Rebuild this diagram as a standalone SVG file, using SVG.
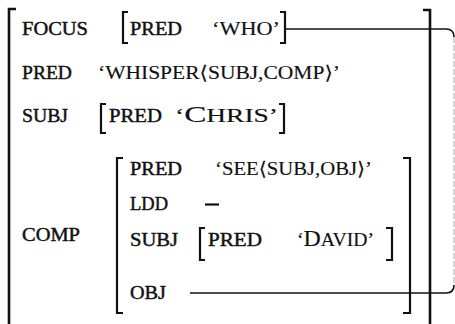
<svg xmlns="http://www.w3.org/2000/svg" width="455" height="324" viewBox="0 0 455 324">
<style>
text { font-family: "Liberation Serif", "DejaVu Serif", serif; fill: #111; }
.a { font-size: 19px; stroke: #111; stroke-width: 0.45; }
.v { font-size: 19px; stroke: #111; stroke-width: 0.15; }
.big { font-size: 23px; }
.br { fill: none; stroke: #111; stroke-width: 2.2; }
.obr { fill: none; stroke: #111; stroke-width: 2.6; }
.con { fill: none; stroke: #111; stroke-width: 1.6; }
.conv { fill: none; stroke: #aaa; stroke-width: 1; stroke-dasharray: 6 2; }
</style>
<rect width="455" height="324" fill="#fff"/>
<g id="fstructure">
  <path class="obr" d="M16,9 H9 V324"/>
  <path class="obr" d="M423,10 H430 V324"/>
  <text class="a" x="22" y="35" textLength="66" lengthAdjust="spacingAndGlyphs">FOCUS</text>
  <text class="a" x="22" y="79" textLength="50" lengthAdjust="spacingAndGlyphs">PRED</text>
  <text class="v" x="98" y="79" textLength="242" lengthAdjust="spacingAndGlyphs">‘WHISPER⟨SUBJ,COMP⟩’</text>
  <text class="a" x="22" y="122" textLength="46" lengthAdjust="spacingAndGlyphs">SUBJ</text>
  <text class="a" x="22" y="241" textLength="58" lengthAdjust="spacingAndGlyphs">COMP</text>
</g>
<g id="focus">
  <path class="br" d="M128,12 H123 V43 H128"/>
  <path class="br" d="M280,12 H285 V43 H280"/>
  <text class="a" x="130" y="35" textLength="52" lengthAdjust="spacingAndGlyphs">PRED</text>
  <text class="v" x="212" y="35" textLength="68" lengthAdjust="spacingAndGlyphs">‘WHO’</text>
</g>
<g id="subj">
  <path class="br" d="M106,104 H101 V133 H106"/>
  <path class="br" d="M279,104 H284 V133 H279"/>
  <text class="a" x="109" y="122" textLength="53" lengthAdjust="spacingAndGlyphs">PRED</text>
  <text class="v" x="175" y="122" textLength="103" lengthAdjust="spacingAndGlyphs">‘<tspan class="big">C</tspan>HRIS’</text>
</g>
<g id="comp">
  <path class="br" d="M123,158 H117 V313 H123"/>
  <path class="br" d="M403,158 H410 V313 H403"/>
  <text class="a" x="130" y="175" textLength="52" lengthAdjust="spacingAndGlyphs">PRED</text>
  <text class="v" x="215" y="175" textLength="157" lengthAdjust="spacingAndGlyphs">‘SEE⟨SUBJ,OBJ⟩’</text>
  <text class="a" x="130" y="210" textLength="38" lengthAdjust="spacingAndGlyphs">LDD</text>
  <path class="br" d="M205,204.5 H219"/>
  <text class="a" x="130" y="246" textLength="48" lengthAdjust="spacingAndGlyphs">SUBJ</text>
  <text class="a" x="130" y="299" textLength="36" lengthAdjust="spacingAndGlyphs">OBJ</text>
</g>
<g id="comp-subj">
  <path class="br" d="M205,228 H200 V260 H205"/>
  <path class="br" d="M386,228 H392 V260 H386"/>
  <text class="a" x="208" y="246" textLength="54" lengthAdjust="spacingAndGlyphs">PRED</text>
  <text class="v" x="297" y="246" textLength="77" lengthAdjust="spacingAndGlyphs">‘<tspan class="big">D</tspan>AVID’</text>
</g>
<g id="connectors">
  <path class="con" d="M285,29 H446 Q454,29 454,37"/>
  <path class="conv" d="M454,37 V285"/>
  <path class="con" d="M454,285 Q454,293 446,293 H190"/>
</g>
</svg>
